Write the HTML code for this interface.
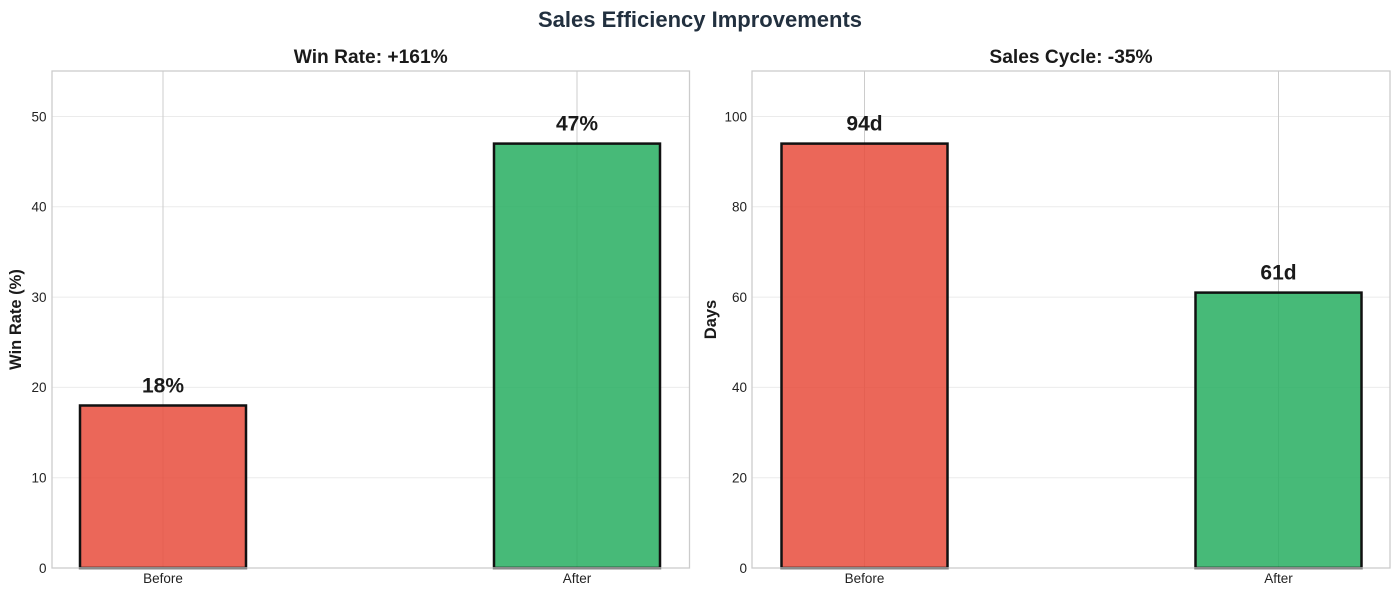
<!DOCTYPE html>
<html>
<head>
<meta charset="utf-8">
<style>
  html, body { margin: 0; padding: 0; background: #ffffff; }
  svg { display: block; }
  text { font-family: "Liberation Sans", Arial, sans-serif; }
</style>
</head>
<body>
<svg width="1400" height="597" viewBox="0 0 1400 597" xmlns="http://www.w3.org/2000/svg">
  <rect x="0" y="0" width="1400" height="597" fill="#ffffff"/>

  <!-- Main title -->
  <text x="700" y="27" text-anchor="middle" font-size="22" font-weight="bold" fill="#22303f">Sales Efficiency Improvements</text>

  <!-- ============ LEFT CHART ============ -->
  <text x="370.75" y="63" text-anchor="middle" font-size="19.2" font-weight="bold" fill="#1a1a1a">Win Rate: +161%</text>

  <!-- horizontal grid -->
  <g stroke="#ebebeb" stroke-width="1">
    <line x1="52" x2="689.5" y1="477.7" y2="477.7"/>
    <line x1="52" x2="689.5" y1="387.4" y2="387.4"/>
    <line x1="52" x2="689.5" y1="297.1" y2="297.1"/>
    <line x1="52" x2="689.5" y1="206.8" y2="206.8"/>
    <line x1="52" x2="689.5" y1="116.5" y2="116.5"/>
  </g>
  <!-- vertical grid -->
  <g stroke="#cccccc" stroke-width="1">
    <line x1="163" x2="163" y1="71" y2="568"/>
    <line x1="577" x2="577" y1="71" y2="568"/>
  </g>

  <!-- bars -->
  <rect x="80" y="405.5" width="166" height="162.5" fill="#e74c3c" fill-opacity="0.85" stroke="#111111" stroke-width="2.5"/>
  <rect x="494" y="143.6" width="166" height="424.4" fill="#27ae60" fill-opacity="0.85" stroke="#111111" stroke-width="2.5"/>

  <!-- frame -->
  <rect x="52" y="71" width="637.5" height="497" fill="none" stroke="#cccccc" stroke-width="1.3"/>

  <!-- value labels -->
  <text x="163" y="392.5" text-anchor="middle" font-size="21" font-weight="bold" fill="#1a1a1a">18%</text>
  <text x="577" y="130.6" text-anchor="middle" font-size="21" font-weight="bold" fill="#1a1a1a">47%</text>

  <!-- y tick labels -->
  <g font-size="13.5" fill="#222222" text-anchor="end">
    <text x="46.5" y="572.8">0</text>
    <text x="46.5" y="482.5">10</text>
    <text x="46.5" y="392.2">20</text>
    <text x="46.5" y="301.9">30</text>
    <text x="46.5" y="211.6">40</text>
    <text x="46.5" y="121.3">50</text>
  </g>
  <!-- x tick labels -->
  <g font-size="13.5" fill="#222222" text-anchor="middle">
    <text x="163" y="583">Before</text>
    <text x="577" y="583">After</text>
  </g>
  <!-- y label -->
  <text transform="translate(21,319.5) rotate(-90)" text-anchor="middle" font-size="16.5" font-weight="bold" fill="#1a1a1a">Win Rate (%)</text>

  <!-- ============ RIGHT CHART ============ -->
  <text x="1071" y="63" text-anchor="middle" font-size="19.2" font-weight="bold" fill="#1a1a1a">Sales Cycle: -35%</text>

  <g stroke="#ebebeb" stroke-width="1">
    <line x1="752" x2="1390" y1="477.7" y2="477.7"/>
    <line x1="752" x2="1390" y1="387.4" y2="387.4"/>
    <line x1="752" x2="1390" y1="297.1" y2="297.1"/>
    <line x1="752" x2="1390" y1="206.8" y2="206.8"/>
    <line x1="752" x2="1390" y1="116.5" y2="116.5"/>
  </g>
  <g stroke="#cccccc" stroke-width="1">
    <line x1="864.5" x2="864.5" y1="71" y2="568"/>
    <line x1="1278.5" x2="1278.5" y1="71" y2="568"/>
  </g>

  <rect x="781.5" y="143.6" width="166" height="424.4" fill="#e74c3c" fill-opacity="0.85" stroke="#111111" stroke-width="2.5"/>
  <rect x="1195.5" y="292.6" width="166" height="275.4" fill="#27ae60" fill-opacity="0.85" stroke="#111111" stroke-width="2.5"/>

  <rect x="752" y="71" width="638" height="497" fill="none" stroke="#cccccc" stroke-width="1.3"/>

  <text x="864.5" y="130.6" text-anchor="middle" font-size="21" font-weight="bold" fill="#1a1a1a">94d</text>
  <text x="1278.5" y="279.6" text-anchor="middle" font-size="21" font-weight="bold" fill="#1a1a1a">61d</text>

  <g font-size="13.5" fill="#222222" text-anchor="end">
    <text x="747" y="572.8">0</text>
    <text x="747" y="482.5">20</text>
    <text x="747" y="392.2">40</text>
    <text x="747" y="301.9">60</text>
    <text x="747" y="211.6">80</text>
    <text x="747" y="121.3">100</text>
  </g>
  <g font-size="13.5" fill="#222222" text-anchor="middle">
    <text x="864.5" y="583">Before</text>
    <text x="1278.5" y="583">After</text>
  </g>
  <text transform="translate(716,319.5) rotate(-90)" text-anchor="middle" font-size="16.5" font-weight="bold" fill="#1a1a1a">Days</text>
</svg>
</body>
</html>
